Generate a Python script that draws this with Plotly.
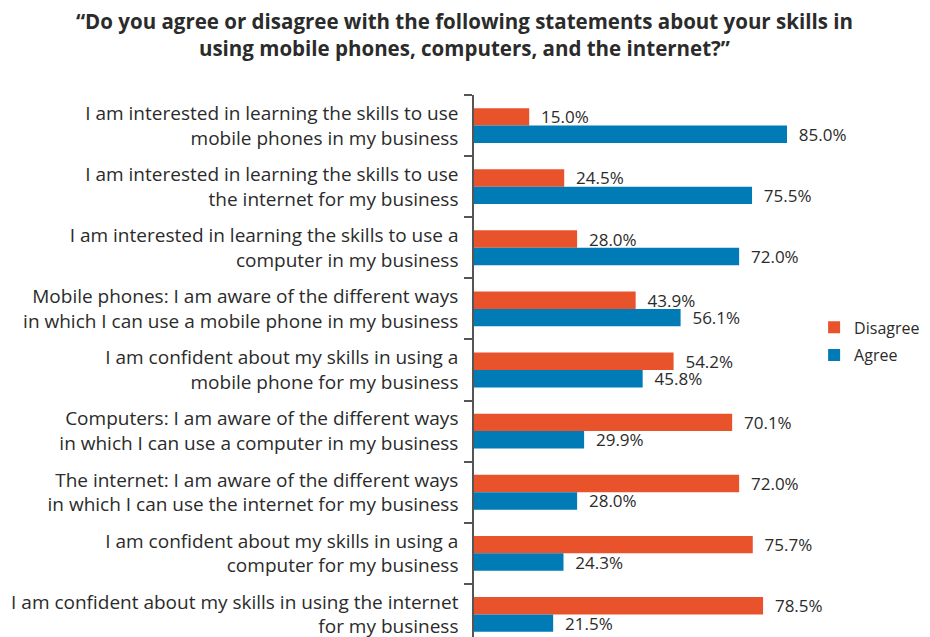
import plotly.graph_objects as go

categories = [
    "I am interested in learning the skills to use<br>mobile phones in my business",
    "I am interested in learning the skills to use<br>the internet for my business",
    "I am interested in learning the skills to use a<br>computer in my business",
    "Mobile phones: I am aware of the different ways<br>in which I can use a mobile phone in my business",
    "I am confident about my skills in using a<br>mobile phone for my business",
    "Computers: I am aware of the different ways<br>in which I can use a computer in my business",
    "The internet: I am aware of the different ways<br>in which I can use the internet for my business",
    "I am confident about my skills in using a<br>computer for my business",
    "I am confident about my skills in using the internet<br>for my business",
]
disagree = [15.0, 24.5, 28.0, 43.9, 54.2, 70.1, 72.0, 75.7, 78.5]
agree = [85.0, 75.5, 72.0, 56.1, 45.8, 29.9, 28.0, 24.3, 21.5]

ORANGE = "#E9532C"
BLUE = "#007BB6"
TEXT = "#2b2b2b"
FONT = "Open Sans"

fig = go.Figure()
for name, vals, col in [("Disagree", disagree, ORANGE), ("Agree", agree, BLUE)]:
    fig.add_trace(go.Bar(
        name=name, y=categories, x=vals, orientation="h",
        legendgroup=name,
        marker=dict(color=col, line=dict(width=0)),
        text=[f"{v:.1f}%" for v in vals],
        texttemplate="  %{text}",
        textposition="outside", constraintext="none", cliponaxis=False,
        textfont=dict(family=FONT, size=17, color=TEXT),
    ))

# the page body adds an 8px offset, so margins are shifted back by 8px
fig.update_layout(
    width=930, height=637,
    barmode="group", bargap=0.43, bargroupgap=0,
    paper_bgcolor="white", plot_bgcolor="white",
    margin=dict(l=466, r=0, t=87, b=0, autoexpand=False),
    font=dict(family=FONT, color=TEXT),
    legend=dict(
        x=0.733, y=0.552, xanchor="left", yanchor="middle",
        font=dict(family=FONT, size=16, color=TEXT),
        tracegroupgap=4, bgcolor="rgba(0,0,0,0)",
    ),
    xaxis=dict(range=[0, 126.0], visible=False, showgrid=False),
    yaxis=dict(
        type="category", range=[8.5, -0.5],
        showline=True, linecolor="#555555", linewidth=1.5,
        ticks="outside", tickson="boundaries", ticklen=8, tickcolor="#555555", tickwidth=1.5,
        ticklabelstandoff=10,
        tickfont=dict(family=FONT, size=19, color=TEXT),
        showgrid=False,
    ),
    annotations=[dict(
        text="<b>“Do you agree or disagree with the following statements about your skills in<br>using mobile phones, computers, and the internet?”</b>",
        xref="paper", yref="paper", x=-0.0194, y=1.0,
        xanchor="center", yanchor="bottom", yshift=31, showarrow=False,
        font=dict(family=FONT, size=20.5, color=TEXT),
    )],
)

fig.write_html("out.html")
